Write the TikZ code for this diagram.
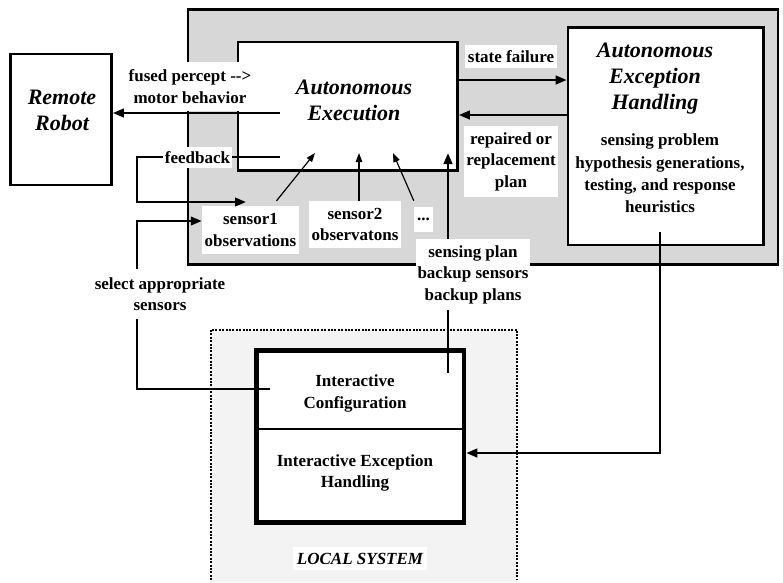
\documentclass[tikz,border=0pt]{standalone}
\usepackage{fontspec}
\setmainfont{Liberation Serif}
\usetikzlibrary{arrows.meta,calc}
\definecolor{sysgray}{RGB}{215,215,215}
\definecolor{localgray}{RGB}{243,243,243}
\newcommand{\bodysize}{\fontsize{17}{21.5}\selectfont}
\newcommand{\titlesize}{\fontsize{22}{26}\selectfont}
\begin{document}
\begin{tikzpicture}[x=1pt,y=-1pt,
  frame/.style={draw=black, line width=2.6pt, fill=white, inner sep=0pt},
  title/.style={align=center, inner sep=0pt, font=\bfseries\itshape\titlesize},
  body/.style={align=center, inner sep=0pt, font=\bfseries\bodysize},
  tag/.style={body, fill=white},
  flow/.style={line width=2.4pt, -{Triangle[length=11pt,width=8.5pt]}},
  thin flow/.style={line width=1.2pt, -{Triangle[length=9pt,width=6.5pt]}},
  wire/.style={line width=2.4pt},
  dotted border/.style={line width=2pt, dash pattern=on 2pt off 1.4pt},
]
\useasboundingbox (0,0) rectangle (783,582);

% local system area (open at the bottom)
\node[fill=localgray, minimum width=306, minimum height=252, inner sep=0pt] (local) at (364,456) {};
\draw[dotted border] ([yshift=2pt]local.south west) -- (local.north west) -- (local.north east) -- ([yshift=2pt]local.south east);

% remote side: the robot and the autonomous system
\node[draw=black, line width=2.4pt, fill=sysgray, minimum width=590, minimum height=255, inner sep=0pt] (sys) at (483,137) {};
\node[frame, minimum width=101, minimum height=131] (robot) at (61,119.5) {};
\node[frame, minimum width=219.5, minimum height=128.5] (ae) at (347.75,106.25) {};
\node[frame, minimum width=195.5, minimum height=217.5] (aeh) at (665.75,136.25) {};

\node[title] (robottxt) at (62,110.5) {Remote\\Robot};
\node[title] (aetxt) at (354,100.5) {Autonomous\\Execution};
\node[title] (aehtitle) at (655,79) {Autonomous\\Exception\\Handling};
\node[body, font=\bfseries\fontsize{17}{22.3}\selectfont] (aehbody) at (660,173.5)
  {sensing problem\\hypothesis generations,\\testing, and response\\heuristics};

% sensor observations
\node[tag, minimum width=97, minimum height=48] (sensor1) at (250.5,230) {sensor1\\observations};
\node[tag, minimum width=92, minimum height=47] (sensor2) at (355,224.5) {sensor2\\observatons};
\node[tag, minimum width=19, minimum height=25] (dots) at (423.5,219.5) {...};

% interactive block of the local system
\node[draw=black, line width=4.5pt, fill=white, minimum width=207.5, minimum height=172, inner sep=0pt] (ib) at (360.25,436.5) {};
\draw[line width=2pt] (ib.west |- 0,429) -- (ib.east |- 0,429);
\node[body] (ic) at (355,393.5) {Interactive\\Configuration};
\node[body] (ieh) at (355,473) {Interactive Exception\\Handling};

% connector end points
\coordinate (fusedfrom) at (280,113);
\coordinate (fbfrom) at (280,157);
\coordinate (fbto) at (246,202);
\coordinate (loopx) at (137,0);
\coordinate (selfrom) at (270,389);
\coordinate (in1) at (315,153);
\coordinate (in2) at (359,153);
\coordinate (in3) at (393,153);
\coordinate (in4) at (448,153);
\coordinate (spfrom) at (448,373);
\coordinate (ehfrom) at (660,232);

% connectors
\draw[flow] (fusedfrom) -- (fusedfrom -| robot.east);
\draw[flow] (ae.east |- 0,80) -- (aeh.west |- 0,80);
\draw[flow] (aeh.west |- 0,115) -- (ae.east |- 0,115);
\draw[flow] (fbfrom) -- (fbfrom -| loopx) |- (fbto);
\draw[flow] (selfrom) -- (selfrom -| loopx) |- (sensor1.west |- 0,221);
\draw[thin flow] ([xshift=26pt,yshift=5pt]sensor1.north) -- (in1);
\draw[thin flow] (sensor2.north -| in2) -- (in2);
\draw[thin flow] ([yshift=6pt]dots.north west) -- (in3);
\draw[flow] (spfrom) -- (in4);
\draw[flow] (ehfrom) |- (ib.east |- 0,453);

% connector labels
\node[tag, minimum width=124, minimum height=49] (fusedlbl) at (190,86.5) {fused percept -{}->\\motor behavior};
\node[tag, minimum width=69, minimum height=21] (fblbl) at (197.5,157.5) {feedback};
\node[tag, minimum width=136, minimum height=50] (sellbl) at (160,294) {select appropriate\\sensors};
\node[tag, minimum width=92, minimum height=23] (sflbl) at (511,56.5) {state failure};
\node[tag, minimum width=94, minimum height=71] (rplbl) at (511,161.5) {repaired or\\replacement\\plan};
\node[tag, minimum width=114, minimum height=71] (splbl) at (473,274.5) {sensing plan\\backup sensors\\backup plans};
\node[tag, minimum width=134, minimum height=23, font=\bfseries\itshape\bodysize] (loclbl) at (360,558.5) {LOCAL SYSTEM};
\end{tikzpicture}
\end{document}
